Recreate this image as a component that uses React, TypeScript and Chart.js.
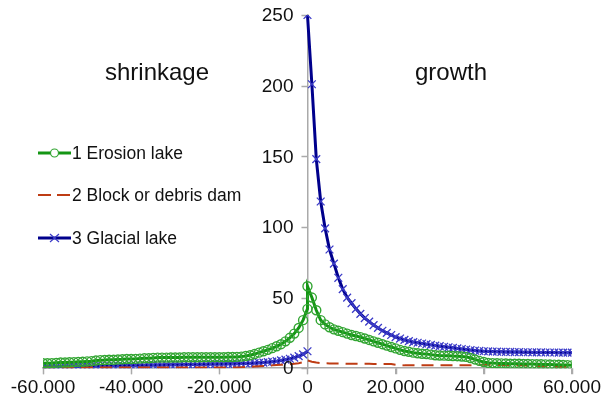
import React, { useEffect, useRef } from "react";
import { Chart, registerables } from "chart.js";

Chart.register(...registerables);

const STEP = 1000;
const xLeft = Array.from({ length: 61 }, (_, i) => -60000 + i * STEP);
const xRight = Array.from({ length: 61 }, (_, i) => i * STEP);

const xTicks = [-60000, -40000, -20000, 0, 20000, 40000, 60000];
const yTicks = [0, 50, 100, 150, 200, 250];

const seriesNames = ["1 Erosion lake", "2 Block or debris dam", "3 Glacial lake"];
const sideLabels = ["shrinkage", "growth"];

const erosionLeft = [
  3.5, 3.5, 3.6, 3.8, 4.0, 4.0, 4.2, 4.3, 4.5, 4.6,
  4.8, 5.0, 5.4, 5.7, 5.8, 6.0, 6.0, 6.2, 6.3, 6.5,
  6.5, 6.6, 6.8, 7.0, 7.0, 7.3, 7.5, 7.5, 7.5, 7.6,
  7.6, 7.6, 7.7, 7.7, 7.7, 7.7, 7.8, 7.8, 7.8, 7.8,
  7.8, 7.8, 7.9, 7.9, 8.0, 8.2, 8.6, 9.2, 10.0, 11.0,
  12.0, 13.0, 14.2, 15.5, 17.0, 19.0, 21.5, 24.5, 28.5, 34.0,
  42.0,
];
const erosionRight = [
  58, 50, 41, 34, 31, 29, 27.5, 26.5, 25.5, 24.5,
  23.5, 22.8, 22, 21, 20, 19, 18, 17, 16, 15,
  14, 13, 12.2, 11.6, 11, 10.6, 10.2, 10, 9.6, 9.2,
  9, 8.9, 8.8, 8.6, 8.5, 8.3, 8, 7.2, 6.2, 5.2,
  4.4, 3.8, 3.6, 3.5, 3.4, 3.3, 3.2, 3.2, 3.1, 3.0,
  3.0, 2.9, 2.8, 2.8, 2.7, 2.6, 2.5, 2.4, 2.3, 2.2,
  2.0,
];
const debrisLeft = [
  0.5, 0.5, 0.5, 0.5, 0.5, 0.5, 0.5, 0.5, 0.5, 0.5,
  0.5, 0.5, 0.5, 0.5, 0.5, 0.5, 0.5, 0.5, 0.5, 0.5,
  0.5, 0.5, 0.5, 0.5, 0.5, 0.5, 0.5, 0.5, 0.5, 0.5,
  0.5, 0.5, 0.5, 0.5, 0.5, 0.5, 0.5, 0.5, 0.5, 0.5,
  0.5, 0.5, 0.5, 0.5, 0.5, 0.6, 0.8, 1.0, 1.2, 1.4,
  1.6, 1.8, 2.0, 2.2, 2.4, 2.6, 2.8, 3.1, 3.5, 4.2,
  5.0,
];
const debrisRight = [
  5.5, 4.6, 4.0, 3.6, 3.5, 3.4, 3.4, 3.3, 3.3, 3.2,
  3.2, 3.2, 3.1, 3.1, 3.1, 3.0, 3.0, 3.0, 3.0, 2.9,
  2.5, 2.2, 2.0, 2.0, 2.0, 2.0, 2.0, 2.0, 2.0, 2.0,
  2.0, 2.0, 2.0, 2.0, 2.0, 2.0, 2.0, 2.0, 2.2, 2.5,
  2.5, 2.4, 2.3, 2.2, 2.2, 2.1, 2.1, 2.0, 2.0, 2.0,
  1.8, 1.6, 1.5, 1.4, 1.3, 1.2, 1.2, 1.1, 1.0, 1.0,
  1.0,
];
const glacialLeft = [
  1.0, 1.0, 1.1, 1.1, 1.2, 1.2, 1.3, 1.3, 1.4, 1.4,
  1.5, 1.5, 1.6, 1.6, 1.7, 1.7, 1.8, 1.8, 1.9, 1.9,
  2.0, 2.0, 2.1, 2.1, 2.2, 2.2, 2.3, 2.3, 2.4, 2.4,
  2.5, 2.5, 2.6, 2.6, 2.7, 2.7, 2.8, 2.8, 2.9, 2.9,
  3.0, 3.0, 3.1, 3.1, 3.2, 3.3, 3.4, 3.5, 3.6, 3.8,
  4.0, 4.3, 4.6, 5.0, 5.5, 6.0, 6.7, 7.5, 8.5, 9.8,
  12.0,
];
const glacialRight = [
  250, 201, 148, 118, 99, 84, 74, 64, 56, 50,
  46, 42, 38.5, 35.5, 33, 30.5, 28.5, 26.5, 25, 23.5,
  22, 21, 20, 19.2, 18.5, 18, 17.5, 17, 16.5, 16,
  15.6, 15.2, 14.8, 14.4, 14, 13.6, 13.2, 12.8, 12.5, 12.2,
  12, 11.9, 11.8, 11.7, 11.6, 11.5, 11.5, 11.4, 11.4, 11.3,
  11.3, 11.2, 11.2, 11.2, 11.1, 11.1, 11.1, 11.0, 11.0, 11.0,
  11.0,
];

const GREEN = "rgb(20,150,20)";
const GREEN_PT = "rgb(50,165,50)";
const RED = "rgb(190,60,20)";
const BLUE = "rgb(0,0,140)";
const BLUE_PT = "rgb(60,60,200)";
const AXIS = "#aaa";
const FONT = "'Liberation Sans', Arial, Helvetica, sans-serif";

function join(left: number[], right: number[], gap: boolean) {
  const pts: { x: number; y: number | null }[] = left.map((v, i) => ({ x: xLeft[i], y: v }));
  if (gap) pts.push({ x: 0, y: null });
  right.forEach((v, i) => pts.push({ x: xRight[i], y: v }));
  return pts;
}

function fmt(v: number) {
  const neg = v < 0;
  const s = Math.abs(Math.round(v)).toString();
  const withDots = s.replace(/\B(?=(\d{3})+(?!\d))/g, ".");
  return (neg ? "-" : "") + withDots;
}

const axisTicksPlugin = {
  id: "axisTicks",
  beforeDatasetsDraw(chart: any) {
    const ctx = chart.ctx;
    const xs = chart.scales.x;
    const ysc = chart.scales.y;
    const ax = xs.getPixelForValue(0);
    const ay = ysc.getPixelForValue(0);
    ctx.save();
    ctx.strokeStyle = AXIS;
    ctx.lineWidth = 1.5;
    ctx.beginPath();
    yTicks.forEach((v) => {
      const py = Math.round(ysc.getPixelForValue(v)) + 0.5;
      ctx.moveTo(ax - 6, py);
      ctx.lineTo(ax, py);
    });
    xTicks.forEach((v) => {
      const px = Math.round(xs.getPixelForValue(v)) + 0.5;
      ctx.moveTo(px, ay);
      ctx.lineTo(px, ay + 6);
    });
    ctx.stroke();
    ctx.restore();
  },
};

const overlayPlugin = {
  id: "overlay",
  afterDraw(chart: any) {
    const ctx = chart.ctx;
    const xs = chart.scales.x;
    const ysc = chart.scales.y;
    ctx.save();
    ctx.fillStyle = "#111";
    ctx.font = `19px ${FONT}`;
    ctx.textAlign = "right";
    ctx.textBaseline = "middle";
    const ax = xs.getPixelForValue(0);
    yTicks.forEach((v) => {
      ctx.fillText(String(v), ax - 14, ysc.getPixelForValue(v) + 1);
    });

    ctx.font = `24px ${FONT}`;
    ctx.textAlign = "center";
    ctx.fillText(sideLabels[0], 157, 73);
    ctx.fillText(sideLabels[1], 451, 73);

    const ys = [153, 195, 238];
    ctx.font = `17.5px ${FONT}`;
    ctx.textAlign = "left";
    seriesNames.forEach((name, i) => {
      const y = ys[i];
      ctx.save();
      if (i === 0) {
        ctx.strokeStyle = GREEN;
        ctx.lineWidth = 3;
        ctx.beginPath();
        ctx.moveTo(38, y);
        ctx.lineTo(71, y);
        ctx.stroke();
        ctx.lineWidth = 1.2;
        ctx.strokeStyle = GREEN_PT;
        ctx.fillStyle = "#fff";
        ctx.beginPath();
        ctx.arc(54.5, y, 4, 0, Math.PI * 2);
        ctx.fill();
        ctx.stroke();
      } else if (i === 1) {
        ctx.strokeStyle = RED;
        ctx.lineWidth = 2;
        ctx.setLineDash([13, 6]);
        ctx.beginPath();
        ctx.moveTo(38, y);
        ctx.lineTo(71, y);
        ctx.stroke();
      } else {
        ctx.strokeStyle = BLUE;
        ctx.lineWidth = 3;
        ctx.beginPath();
        ctx.moveTo(38, y);
        ctx.lineTo(71, y);
        ctx.stroke();
        ctx.strokeStyle = BLUE_PT;
        ctx.lineWidth = 1.2;
        ctx.beginPath();
        ctx.moveTo(50, y - 4);
        ctx.lineTo(59, y + 4);
        ctx.moveTo(50, y + 4);
        ctx.lineTo(59, y - 4);
        ctx.stroke();
      }
      ctx.restore();
      ctx.fillStyle = "#111";
      ctx.fillText(name, 72, y + 1);
    });
    ctx.restore();
  },
};

export default function App() {
  const ref = useRef<HTMLCanvasElement | null>(null);
  useEffect(() => {
    if (!ref.current) return;
    const chart = new Chart(ref.current, {
      type: "line",
      data: {
        datasets: [
          {
            label: seriesNames[0],
            data: join(erosionLeft, erosionRight, false),
            borderColor: GREEN,
            borderWidth: 3,
            pointStyle: "circle",
            pointRadius: 4.5,
            pointBorderWidth: 1.4,
            pointBorderColor: GREEN_PT,
            pointBackgroundColor: "rgba(0,0,0,0)",
            tension: 0,
            spanGaps: false,
          },
          {
            label: seriesNames[1],
            data: join(debrisLeft, debrisRight, false),
            borderColor: RED,
            borderWidth: 2,
            borderDash: [12, 7],
            pointRadius: 0,
            tension: 0,
          },
          {
            label: seriesNames[2],
            data: join(glacialLeft, glacialRight, true),
            borderColor: BLUE,
            borderWidth: 3,
            pointStyle: "crossRot",
            pointRadius: 5.5,
            pointBorderWidth: 1.3,
            pointBorderColor: BLUE_PT,
            tension: 0,
            spanGaps: false,
          },
        ],
      },
      options: {
        animation: false,
        responsive: false,
        maintainAspectRatio: false,
        layout: { padding: { left: 43, right: 28, top: 15, bottom: 4 } },
        plugins: {
          legend: { display: false },
          tooltip: { enabled: false },
        },
        scales: {
          x: {
            type: "linear",
            min: -60000,
            max: 60000,
            afterBuildTicks: (scale: any) => {
              scale.ticks = xTicks.map((v) => ({ value: v }));
            },
            ticks: {
              callback: (v: any) => fmt(Number(v)),
              font: { size: 19, family: FONT },
              color: "#111",
              maxRotation: 0,
              autoSkip: false,
              padding: 2,
            },
            grid: { drawOnChartArea: false, drawTicks: true, tickLength: 6, color: AXIS },
            border: { display: true, color: AXIS, width: 1.5 },
          },
          y: {
            type: "linear",
            position: { x: 0 } as any,
            min: 0,
            max: 250,
            afterBuildTicks: (scale: any) => {
              scale.ticks = yTicks.map((v) => ({ value: v }));
            },
            ticks: { display: false },
            grid: { drawOnChartArea: false, drawTicks: false, color: AXIS },
            border: { display: true, color: AXIS, width: 1.5 },
          },
        },
      },
      plugins: [axisTicksPlugin, overlayPlugin],
    });
    return () => chart.destroy();
  }, []);
  return (
    <div style={{ position: "absolute", left: 0, top: 0, width: 603, height: 405, background: "#fff" }}>
      <canvas ref={ref} width={603} height={405} style={{ width: 603, height: 405 }} />
    </div>
  );
}
